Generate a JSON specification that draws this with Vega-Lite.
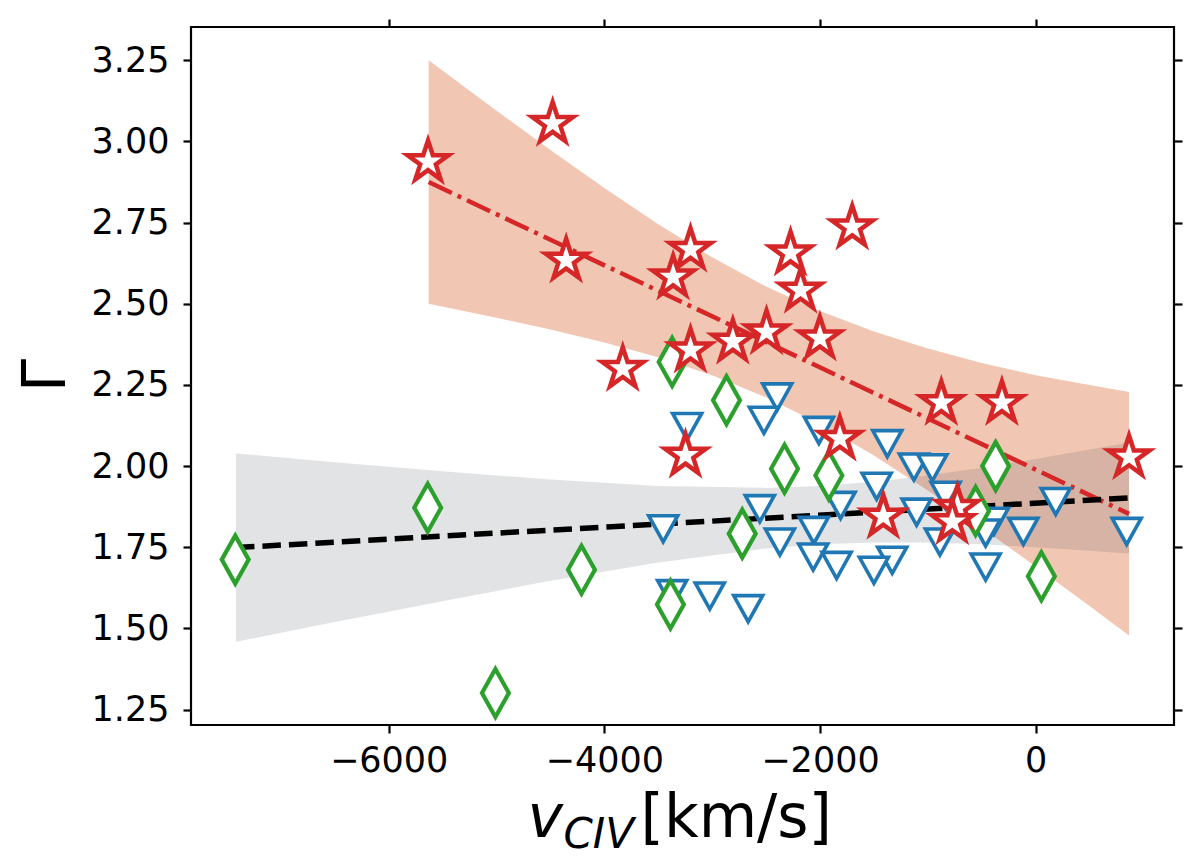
{
  "$schema": "https://vega.github.io/schema/vega-lite/v6.json",
  "width": 983,
  "height": 698,
  "autosize": {"type": "none"},
  "padding": {"left": 191, "top": 27, "right": 26, "bottom": 143},
  "background": "white",
  "config": {
    "view": {"stroke": "black", "strokeWidth": 2.2},
    "axis": {
      "grid": false,
      "domain": false,
      "tickColor": "black",
      "tickWidth": 2.2,
      "tickSize": 8,
      "labelFont": "DejaVu Sans",
      "labelFontSize": 35,
      "labelColor": "black",
      "labelOverlap": false,
      "labelFlush": false,
      "titleFont": "DejaVu Sans",
      "titleColor": "black",
      "titleFontWeight": "normal"
    }
  },
  "datasets": {
    "redband": [
      {"x": -5629, "lo": 2.500, "hi": 3.250},
      {"x": -5000, "lo": 2.457, "hi": 3.095},
      {"x": -4500, "lo": 2.421, "hi": 2.974},
      {"x": -4000, "lo": 2.381, "hi": 2.857},
      {"x": -3500, "lo": 2.335, "hi": 2.745},
      {"x": -3000, "lo": 2.280, "hi": 2.643},
      {"x": -2500, "lo": 2.212, "hi": 2.553},
      {"x": -2000, "lo": 2.130, "hi": 2.478},
      {"x": -1500, "lo": 2.033, "hi": 2.415},
      {"x": -1000, "lo": 1.925, "hi": 2.362},
      {"x": -500, "lo": 1.810, "hi": 2.318},
      {"x": 0, "lo": 1.691, "hi": 2.280},
      {"x": 500, "lo": 1.569, "hi": 2.250},
      {"x": 866, "lo": 1.478, "hi": 2.228}
    ],
    "grayband": [
      {"x": -7416, "lo": 1.459, "hi": 2.039},
      {"x": -6500, "lo": 1.520, "hi": 2.012},
      {"x": -5500, "lo": 1.584, "hi": 1.984},
      {"x": -4500, "lo": 1.647, "hi": 1.959},
      {"x": -3500, "lo": 1.703, "hi": 1.939},
      {"x": -2500, "lo": 1.746, "hi": 1.933},
      {"x": -2000, "lo": 1.759, "hi": 1.939},
      {"x": -1500, "lo": 1.765, "hi": 1.952},
      {"x": -1000, "lo": 1.765, "hi": 1.971},
      {"x": -500, "lo": 1.759, "hi": 1.995},
      {"x": 0, "lo": 1.750, "hi": 2.022},
      {"x": 500, "lo": 1.739, "hi": 2.051},
      {"x": 866, "lo": 1.731, "hi": 2.073}
    ],
    "redline": [
      {"x": -5629, "y": 2.875},
      {"x": 866, "y": 1.853}
    ],
    "blackline": [
      {"x": -7416, "y": 1.749},
      {"x": 866, "y": 1.902}
    ],
    "tri": [
      {"x": -2397, "y": 2.213}, {"x": -2520, "y": 2.141}, {"x": -3232, "y": 2.122},
      {"x": -2010, "y": 2.110}, {"x": -1376, "y": 2.069}, {"x": -1129, "y": 1.997},
      {"x": -958, "y": 1.995}, {"x": -1475, "y": 1.938}, {"x": -1809, "y": 1.879},
      {"x": -2558, "y": 1.869}, {"x": -1104, "y": 1.858}, {"x": -3454, "y": 1.807},
      {"x": -2057, "y": 1.802}, {"x": -2372, "y": 1.766}, {"x": -2063, "y": 1.720},
      {"x": -1846, "y": 1.694}, {"x": -1330, "y": 1.710}, {"x": -1500, "y": 1.679},
      {"x": -888, "y": 1.766}, {"x": -3371, "y": 1.607}, {"x": -3022, "y": 1.600},
      {"x": -2666, "y": 1.561}, {"x": -835, "y": 1.910}, {"x": -387, "y": 1.830},
      {"x": -464, "y": 1.794}, {"x": -464, "y": 1.689}, {"x": -114, "y": 1.799},
      {"x": 186, "y": 1.891}, {"x": 844, "y": 1.799}
    ],
    "dia": [
      {"x": -7423, "y": 1.712}, {"x": -5638, "y": 1.872}, {"x": -4212, "y": 1.681},
      {"x": -5010, "y": 1.301}, {"x": -3371, "y": 2.321}, {"x": -2867, "y": 2.203},
      {"x": -2329, "y": 1.992}, {"x": -1918, "y": 1.971}, {"x": -2721, "y": 1.792},
      {"x": -3387, "y": 1.574}, {"x": -371, "y": 2.000}, {"x": -557, "y": 1.862},
      {"x": 53, "y": 1.661}
    ],
    "stars": [
      {"x": -5635, "y": 2.937}, {"x": -4479, "y": 3.055}, {"x": -4354, "y": 2.634},
      {"x": -3201, "y": 2.667}, {"x": -3362, "y": 2.582}, {"x": -3201, "y": 2.357},
      {"x": -3829, "y": 2.300}, {"x": -2808, "y": 2.384}, {"x": -2496, "y": 2.413},
      {"x": -1701, "y": 2.736}, {"x": -2273, "y": 2.656}, {"x": -2180, "y": 2.541},
      {"x": -2001, "y": 2.394}, {"x": -875, "y": 2.195}, {"x": -313, "y": 2.195},
      {"x": -1816, "y": 2.085}, {"x": 866, "y": 2.028}, {"x": -3247, "y": 2.033},
      {"x": -1413, "y": 1.845}, {"x": -726, "y": 1.872}, {"x": -773, "y": 1.828}
    ]
  },
  "layer": [
    {
      "data": {"name": "redband"},
      "mark": {"type": "area", "color": "#f1c6b2", "opacity": 1},
      "encoding": {
        "x": {
          "field": "x", "type": "quantitative",
          "scale": {"domain": [-7833, 1283], "nice": false, "zero": false},
          "axis": {
            "orient": "bottom",
            "values": [-6000, -4000, -2000, 0],
            "format": "d",
            "labelPadding": 10,
            "title": "[km/s]",
            "titleFontSize": 60,
            "titleX": 449,
            "titleY": 111,
            "titleAlign": "left",
            "titleBaseline": "alphabetic"
          }
        },
        "y": {
          "field": "lo", "type": "quantitative",
          "scale": {"domain": [1.2026, 3.3526], "nice": false, "zero": false},
          "axis": {
            "orient": "left",
            "values": [1.25, 1.5, 1.75, 2.0, 2.25, 2.5, 2.75, 3.0, 3.25],
            "format": ".2f",
            "labelPadding": 14,
            "title": "Γ",
            "titleFontSize": 60,
            "titleAngle": 270,
            "titleX": -127,
            "titleY": 348,
            "titleAlign": "center",
            "titleBaseline": "alphabetic"
          }
        },
        "y2": {"field": "hi"}
      }
    },
    {
      "data": {"name": "grayband"},
      "mark": {"type": "area", "color": "#54575e", "opacity": 0.17},
      "encoding": {
        "x": {
          "field": "x", "type": "quantitative",
          "scale": {"domain": [-7833, 1283], "nice": false, "zero": false},
          "axis": {
            "orient": "top",
            "values": [-6000, -4000, -2000, 0],
            "labels": false,
            "title": null
          }
        },
        "y": {
          "field": "lo", "type": "quantitative",
          "scale": {"domain": [1.2026, 3.3526], "nice": false, "zero": false},
          "axis": {
            "orient": "right",
            "values": [1.25, 1.5, 1.75, 2.0, 2.25, 2.5, 2.75, 3.0, 3.25],
            "labels": false,
            "title": null
          }
        },
        "y2": {"field": "hi"}
      }
    },
    {
      "data": {"name": "redline"},
      "mark": {"type": "line", "color": "#d62728", "strokeWidth": 4.5, "strokeDash": [25.6, 6.4, 4, 6.4]},
      "encoding": {
        "x": {
          "field": "x", "type": "quantitative",
          "scale": {"domain": [-7833, 1283], "nice": false, "zero": false},
          "axis": {
            "orient": "bottom",
            "ticks": false,
            "labels": false,
            "title": "v",
            "titleFontStyle": "italic",
            "titleFontSize": 60,
            "titleX": 336,
            "titleY": 111,
            "titleAlign": "left",
            "titleBaseline": "alphabetic"
          }
        },
        "y": {
          "field": "y", "type": "quantitative",
          "scale": {"domain": [1.2026, 3.3526], "nice": false, "zero": false},
          "axis": null
        }
      }
    },
    {
      "data": {"name": "blackline"},
      "mark": {"type": "line", "color": "black", "strokeWidth": 5.5, "strokeDash": [18.5, 8]},
      "encoding": {
        "x": {
          "field": "x", "type": "quantitative",
          "scale": {"domain": [-7833, 1283], "nice": false, "zero": false},
          "axis": {
            "orient": "bottom",
            "ticks": false,
            "labels": false,
            "title": "CIV",
            "titleFontStyle": "italic",
            "titleFontSize": 42,
            "titleX": 372,
            "titleY": 122,
            "titleAlign": "left",
            "titleBaseline": "alphabetic"
          }
        },
        "y": {
          "field": "y", "type": "quantitative",
          "scale": {"domain": [1.2026, 3.3526], "nice": false, "zero": false},
          "axis": null
        }
      }
    },
    {
      "data": {"name": "tri"},
      "mark": {"type": "point", "shape": "M-1,-0.9L1,-0.9L0,0.9Z", "size": 841, "fill": "white", "stroke": "#1f77b4", "strokeWidth": 3.6, "opacity": 1, "filled": false},
      "encoding": {
        "x": {"field": "x", "type": "quantitative", "scale": {"domain": [-7833, 1283], "nice": false, "zero": false}, "axis": null},
        "y": {"field": "y", "type": "quantitative", "scale": {"domain": [1.2026, 3.3526], "nice": false, "zero": false}, "axis": null}
      }
    },
    {
      "data": {"name": "dia"},
      "mark": {"type": "point", "shape": "M0,-1L0.56,0L0,1L-0.56,0Z", "size": 2304, "fill": "white", "stroke": "#2ca02c", "strokeWidth": 4.2, "opacity": 1, "filled": false},
      "encoding": {
        "x": {"field": "x", "type": "quantitative", "scale": {"domain": [-7833, 1283], "nice": false, "zero": false}, "axis": null},
        "y": {"field": "y", "type": "quantitative", "scale": {"domain": [1.2026, 3.3526], "nice": false, "zero": false}, "axis": null}
      }
    },
    {
      "data": {"name": "stars"},
      "mark": {"type": "point", "shape": "M0,-1L0.2245,-0.309L0.9511,-0.309L0.3633,0.118L0.5878,0.809L0,0.382L-0.5878,0.809L-0.3633,0.118L-0.9511,-0.309L-0.2245,-0.309Z", "size": 1850, "fill": "white", "stroke": "#d62728", "strokeWidth": 4.5, "opacity": 1, "filled": false},
      "encoding": {
        "x": {"field": "x", "type": "quantitative", "scale": {"domain": [-7833, 1283], "nice": false, "zero": false}, "axis": null},
        "y": {"field": "y", "type": "quantitative", "scale": {"domain": [1.2026, 3.3526], "nice": false, "zero": false}, "axis": null}
      }
    }
  ],
  "resolve": {"axis": {"x": "independent", "y": "independent"}}
}
